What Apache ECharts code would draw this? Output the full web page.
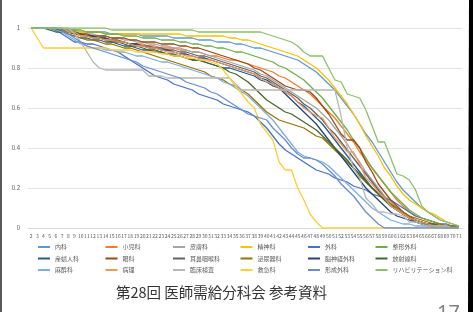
<!DOCTYPE html>
<html>
<head>
<meta charset="utf-8">
<script src="https://cdn.jsdelivr.net/npm/echarts@6/dist/echarts.min.js"></script>
<style>
  html, body { margin: 0; padding: 0; background: #fff; }
  #main { width: 473px; height: 312px; }
</style>
</head>
<body>
<div id="main"></div>
<script>
// 横軸（2〜71）
var categories = ['2','3','4','5','6','7','8','9','10','11','12','13','14','15','16','17','18','19','20','21',
  '22','23','24','25','26','27','28','29','30','31','32','33','34','35','36','37','38','39','40','41',
  '42','43','44','45','46','47','48','49','50','51','52','53','54','55','56','57','58','59','60','61',
  '62','63','64','65','66','67','68','69','70','71'];

var names = ['内科','小児科','皮膚科','精神科','外科','整形外科',
  '産婦人科','眼科','耳鼻咽喉科','泌尿器科','脳神経外科','放射線科',
  '麻酔科','病理','臨床検査','救急科','形成外科','リハビリテーション科'];

var colors = ['#5B9BD5','#ED7D31','#A5A5A5','#FFC000','#4472C4','#70AD47',
  '#255E91','#9E480E','#636363','#997300','#264478','#43682B',
  '#7CAFDD','#F1975A','#B7B7B7','#FFCD33','#698ED0','#8CC168'];

// 各診療科の値（目分量で読み取り）
var naika = [1,1,1,1,0.99,0.99,0.99,0.99,0.98,0.98,
  0.98,0.98,0.98,0.97,0.97,0.97,0.97,0.97,0.96,0.96,
  0.96,0.96,0.96,0.95,0.95,0.95,0.95,0.94,0.94,0.94,
  0.93,0.93,0.93,0.92,0.92,0.91,0.90,0.90,0.89,0.88,
  0.87,0.86,0.85,0.84,0.82,0.80,0.78,0.75,0.72,0.69,
  0.65,0.61,0.57,0.52,0.47,0.43,0.38,0.33,0.28,0.23,
  0.19,0.16,0.13,0.10,0.08,0.06,0.04,0.03,0.02,0.01];
var shonika = [1,1,1,1,0.99,0.99,0.98,0.97,0.96,0.96,
  0.95,0.95,0.94,0.94,0.93,0.93,0.92,0.92,0.92,0.91,
  0.91,0.90,0.90,0.90,0.89,0.89,0.88,0.88,0.87,0.86,
  0.86,0.85,0.84,0.84,0.83,0.82,0.81,0.80,0.79,0.78,
  0.76,0.75,0.73,0.71,0.69,0.67,0.64,0.61,0.58,0.55,
  0.51,0.47,0.43,0.38,0.34,0.30,0.26,0.22,0.18,0.14,
  0.11,0.08,0.06,0.05,0.04,0.03,0.02,0.01,0.01,0];
var hifuka = [1,1,1,1,1,0.99,0.99,0.98,0.98,0.97,
  0.97,0.96,0.96,0.95,0.95,0.94,0.94,0.93,0.93,0.92,
  0.92,0.91,0.91,0.90,0.90,0.89,0.88,0.88,0.87,0.86,
  0.85,0.84,0.83,0.82,0.81,0.80,0.79,0.77,0.76,0.74,
  0.72,0.70,0.68,0.66,0.64,0.62,0.60,0.57,0.54,0.50,
  0.46,0.42,0.37,0.33,0.28,0.24,0.20,0.16,0.13,0.10,
  0.08,0.06,0.04,0.03,0.02,0.02,0.01,0.01,0.01,0];
var seishinka = [1,1,1,0.99,0.99,0.98,0.98,0.98,0.98,0.98,
  0.98,0.98,0.97,0.97,0.97,0.97,0.97,0.97,0.97,0.97,
  0.97,0.97,0.97,0.97,0.97,0.96,0.96,0.96,0.96,0.96,
  0.96,0.96,0.95,0.95,0.94,0.94,0.93,0.92,0.91,0.90,
  0.89,0.88,0.87,0.86,0.84,0.82,0.80,0.77,0.74,0.70,
  0.66,0.62,0.57,0.52,0.46,0.41,0.36,0.30,0.26,0.21,
  0.17,0.14,0.12,0.10,0.08,0.07,0.05,0.03,0.02,0.01];
var geka = [1,1,1,1,0.99,0.97,0.95,0.93,0.93,0.92,
  0.92,0.91,0.90,0.89,0.88,0.86,0.84,0.82,0.80,0.78,
  0.76,0.75,0.74,0.72,0.71,0.70,0.69,0.67,0.66,0.65,
  0.64,0.62,0.61,0.60,0.59,0.58,0.56,0.53,0.50,0.46,
  0.42,0.39,0.37,0.35,0.33,0.31,0.29,0.28,0.27,0.25,
  0.24,0.23,0.21,0.20,0.19,0.17,0.16,0.15,0.14,0.12,
  0.10,0.08,0.06,0.05,0.04,0.03,0.02,0.02,0.01,0.01];
var seikei = [1,1,1,1,1,1,0.99,0.99,0.99,0.98,
  0.98,0.98,0.97,0.97,0.97,0.96,0.96,0.96,0.95,0.95,
  0.95,0.94,0.94,0.94,0.93,0.93,0.92,0.92,0.91,0.91,
  0.90,0.90,0.89,0.88,0.88,0.87,0.86,0.85,0.84,0.83,
  0.81,0.80,0.78,0.76,0.74,0.71,0.68,0.65,0.61,0.57,
  0.53,0.49,0.44,0.40,0.35,0.30,0.26,0.22,0.18,0.15,
  0.12,0.09,0.07,0.05,0.04,0.03,0.02,0.01,0.01,0];
var sanfujinka = [1,1,1,0.99,0.98,0.98,0.97,0.96,0.95,0.95,
  0.94,0.94,0.93,0.93,0.92,0.91,0.91,0.90,0.89,0.89,
  0.88,0.88,0.87,0.86,0.86,0.85,0.84,0.84,0.83,0.82,
  0.81,0.80,0.80,0.79,0.78,0.77,0.76,0.74,0.73,0.71,
  0.70,0.68,0.66,0.63,0.61,0.58,0.55,0.52,0.48,0.44,
  0.40,0.36,0.32,0.28,0.24,0.20,0.17,0.14,0.11,0.09,
  0.07,0.05,0.04,0.03,0.02,0.01,0.01,0.01,0,0];
var ganka = [1,1,1,1,0.99,0.99,0.98,0.98,0.97,0.97,
  0.96,0.96,0.96,0.95,0.95,0.95,0.94,0.94,0.93,0.93,
  0.93,0.92,0.92,0.92,0.91,0.91,0.90,0.90,0.89,0.88,
  0.87,0.86,0.85,0.84,0.83,0.82,0.80,0.79,0.77,0.75,
  0.73,0.71,0.70,0.69,0.69,0.68,0.65,0.61,0.57,0.52,
  0.47,0.44,0.44,0.40,0.33,0.28,0.22,0.18,0.14,0.11,
  0.08,0.06,0.04,0.03,0.02,0.01,0.01,0,0,0];
var jibika = [1,1,1,1,0.99,0.98,0.98,0.97,0.97,0.96,
  0.96,0.95,0.95,0.94,0.94,0.93,0.92,0.92,0.91,0.91,
  0.90,0.90,0.89,0.89,0.88,0.88,0.87,0.86,0.86,0.85,
  0.84,0.83,0.82,0.81,0.80,0.79,0.78,0.76,0.75,0.73,
  0.71,0.69,0.67,0.65,0.62,0.60,0.57,0.54,0.50,0.47,
  0.43,0.39,0.35,0.31,0.27,0.23,0.19,0.15,0.12,0.09,
  0.07,0.05,0.03,0.02,0.02,0.01,0.01,0,0,0];
var hinyokika = [1,1,1,1,0.99,0.98,0.97,0.96,0.95,0.94,
  0.94,0.93,0.92,0.92,0.91,0.90,0.90,0.89,0.88,0.87,
  0.86,0.85,0.84,0.83,0.82,0.81,0.80,0.79,0.78,0.76,
  0.75,0.74,0.72,0.71,0.69,0.67,0.64,0.61,0.58,0.56,
  0.54,0.53,0.52,0.51,0.50,0.48,0.46,0.45,0.42,0.39,
  0.36,0.33,0.30,0.26,0.23,0.20,0.17,0.14,0.12,0.10,
  0.08,0.06,0.05,0.04,0.03,0.02,0.02,0.01,0.01,0];
var noshinkei = [1,1,1,1,1,0.99,0.98,0.98,0.97,0.96,
  0.96,0.95,0.95,0.94,0.93,0.93,0.92,0.92,0.91,0.90,
  0.90,0.89,0.89,0.88,0.87,0.87,0.86,0.85,0.85,0.84,
  0.83,0.82,0.81,0.80,0.79,0.78,0.77,0.75,0.74,0.72,
  0.70,0.67,0.64,0.61,0.58,0.55,0.52,0.48,0.44,0.40,
  0.36,0.32,0.28,0.24,0.20,0.17,0.14,0.11,0.08,0.06,
  0.05,0.04,0.03,0.02,0.01,0.01,0.01,0,0,0];
var hoshasen = [1,1,1,1,0.99,0.99,0.98,0.97,0.97,0.96,
  0.95,0.95,0.94,0.93,0.93,0.92,0.91,0.91,0.90,0.89,
  0.89,0.88,0.87,0.87,0.86,0.85,0.84,0.84,0.83,0.82,
  0.81,0.80,0.78,0.77,0.75,0.73,0.70,0.67,0.64,0.62,
  0.60,0.58,0.57,0.55,0.53,0.51,0.49,0.46,0.43,0.40,
  0.37,0.34,0.30,0.27,0.23,0.20,0.17,0.14,0.11,0.09,
  0.07,0.05,0.04,0.03,0.02,0.02,0.01,0.01,0,0];
var masuika = [1,1,1,1,0.99,0.98,0.96,0.94,0.92,0.91,
  0.90,0.90,0.89,0.89,0.88,0.88,0.87,0.86,0.86,0.85,
  0.84,0.83,0.83,0.82,0.81,0.80,0.79,0.78,0.77,0.76,
  0.75,0.73,0.72,0.70,0.68,0.66,0.63,0.60,0.57,0.54,
  0.50,0.46,0.42,0.38,0.36,0.35,0.34,0.33,0.31,0.28,
  0.25,0.22,0.19,0.16,0.13,0.10,0.08,0.06,0.04,0.03,
  0.02,0.02,0.01,0.01,0.01,0,0,0,0,0];
var byori = [1,1,1,1,1,1,0.98,0.98,0.96,0.96,
  0.95,0.95,0.94,0.94,0.93,0.93,0.92,0.91,0.91,0.90,
  0.90,0.89,0.88,0.88,0.87,0.86,0.86,0.85,0.84,0.84,
  0.83,0.82,0.81,0.80,0.79,0.78,0.77,0.75,0.73,0.72,
  0.70,0.68,0.66,0.63,0.60,0.58,0.56,0.55,0.50,0.45,
  0.42,0.38,0.38,0.32,0.25,0.22,0.18,0.15,0.11,0.09,
  0.07,0.05,0.04,0.03,0.02,0.01,0.01,0.01,0,0];
var rinsho = [1,1,1,1,1,1,1,0.97,0.93,0.88,
  0.83,0.80,0.79,0.79,0.79,0.79,0.79,0.79,0.79,0.76,
  0.76,0.76,0.75,0.75,0.75,0.75,0.75,0.75,0.75,0.75,
  0.75,0.75,0.75,0.72,0.69,0.69,0.69,0.69,0.69,0.69,
  0.69,0.69,0.69,0.69,0.69,0.69,0.69,0.69,0.69,0.69,
  0.56,0.40,0.30,0.25,0.15,0.12,0.08,0.08,0.07,0.07,
  0.06,0.03,0.03,0.02,0.01,0.01,0.01,0.01,0,0];
var kyukyu = [1,0.95,0.90,0.90,0.90,0.90,0.90,0.90,0.90,0.90,
  0.90,0.90,0.90,0.89,0.89,0.89,0.89,0.88,0.88,0.88,
  0.88,0.87,0.87,0.86,0.86,0.85,0.85,0.84,0.84,0.83,
  0.82,0.79,0.75,0.71,0.67,0.63,0.60,0.52,0.48,0.44,
  0.33,0.29,0.29,0.20,0.14,0.07,0.03,0,0,0,
  0,0,0,0,0,0,0,0,0,0,
  0,0,0,0,0,0,0,0,0,0];
var keisei = [1,1,1,1,1,0.99,0.97,0.95,0.93,0.91,
  0.90,0.89,0.88,0.87,0.86,0.85,0.84,0.83,0.81,0.80,
  0.79,0.78,0.77,0.76,0.75,0.73,0.72,0.71,0.70,0.68,
  0.67,0.65,0.63,0.61,0.59,0.57,0.56,0.55,0.54,0.50,
  0.47,0.44,0.40,0.37,0.35,0.35,0.34,0.32,0.29,0.26,
  0.22,0.19,0.16,0.12,0.08,0.05,0.02,0,0,0,
  0,0,0,0,0,0,0,0,0,0];
var riha = [1,1,1,1,1,1,1,1,1,1,
  1,1,1,0.99,0.99,0.99,0.99,0.99,0.99,0.99,
  0.99,0.99,0.99,0.99,0.99,0.99,0.99,0.98,0.98,0.98,
  0.98,0.98,0.98,0.98,0.98,0.98,0.98,0.98,0.97,0.96,
  0.95,0.94,0.93,0.91,0.88,0.86,0.86,0.86,0.80,0.74,
  0.73,0.67,0.66,0.65,0.59,0.51,0.43,0.43,0.35,0.27,
  0.26,0.24,0.19,0.11,0.08,0.06,0.04,0.03,0.02,0.01];

var values = [naika, shonika, hifuka, seishinka, geka, seikei,
  sanfujinka, ganka, jibika, hinyokika, noshinkei, hoshasen,
  masuika, byori, rinsho, kyukyu, keisei, riha];

var chart = echarts.init(document.getElementById('main'), null, { renderer: 'canvas' });

var series = names.map(function (name, i) {
  return {
    name: name,
    type: 'line',
    data: values[i],
    symbol: 'none',
    lineStyle: { width: 1.3, color: colors[i] },
    itemStyle: { color: colors[i] }
  };
});

var option = {
  animation: false,
  backgroundColor: '#ffffff',
  color: colors,
  textStyle: { fontFamily: 'Noto Sans CJK JP, Noto Sans, sans-serif' },
  grid: { left: 28, right: 11, top: 28, bottom: 84 },
  legend: {
    data: names,
    left: 38,
    top: 244,
    width: 440,
    icon: 'rect',
    itemWidth: 12,
    itemHeight: 2,
    itemGap: 5.5,
    padding: 0,
    textStyle: { fontSize: 6, color: '#595959', width: 45, lineHeight: 5 }
  },
  xAxis: {
    type: 'category',
    data: categories,
    boundaryGap: true,
    axisLine: { lineStyle: { color: '#D9D9D9' } },
    axisTick: { show: false },
    axisLabel: { interval: 0, fontSize: 5, color: '#595959', margin: 6, hideOverlap: false }
  },
  yAxis: {
    type: 'value',
    min: 0,
    max: 1,
    interval: 0.2,
    axisLine: { show: false },
    axisTick: { show: false },
    axisLabel: { fontSize: 6, color: '#595959', margin: 8 },
    splitLine: { lineStyle: { color: '#E3E3E3', width: 1 } }
  },
  graphic: [
    { type: 'rect', shape: { x: 0, y: 0, width: 2, height: 312 }, style: { fill: '#5a5a5a' } },
    { type: 'polygon', shape: { points: [[469, 0], [473, 0], [473, 312], [468, 312]] }, style: { fill: '#000' } },
    {
      type: 'text', left: 116, top: 285,
      style: { text: '第28回 医師需給分科会 参考資料', fontSize: 14.5, fill: '#333', fontFamily: 'Noto Sans CJK JP' }
    },
    {
      type: 'text', left: 437, top: 303,
      style: { text: '17', fontSize: 20, fill: '#808080', fontFamily: 'Noto Sans' }
    }
  ],
  series: series
};

chart.setOption(option);
</script>
</body>
</html>
